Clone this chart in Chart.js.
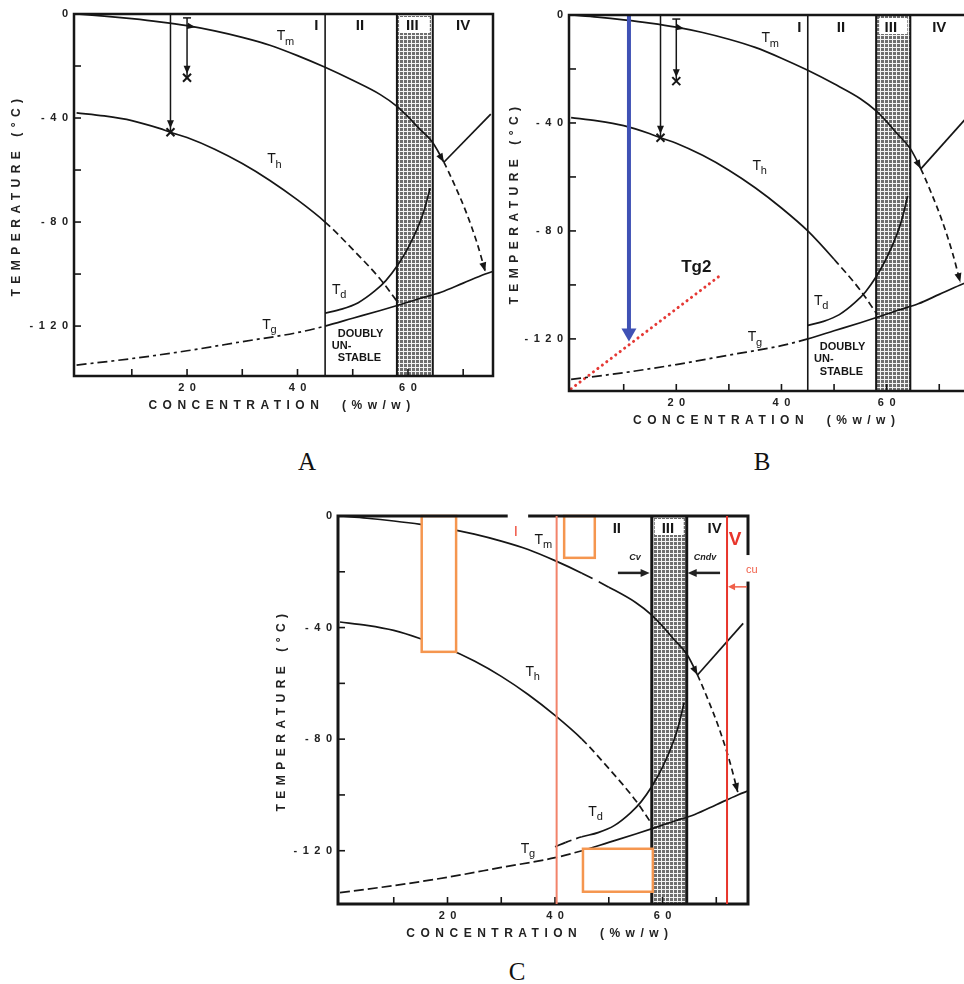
<!DOCTYPE html>
<html>
<head>
<meta charset="utf-8">
<script src="https://cdn.jsdelivr.net/npm/chart.js@4.4.1/dist/chart.umd.min.js"></script>
<style>
  html, body { margin: 0; padding: 0; background: #fff; }
  body { width: 964px; height: 984px; position: relative; overflow: hidden; }
  canvas { position: absolute; }
  .tag { position: absolute; width: 40px; margin-left: -20px; text-align: center;
         font-family: 'Liberation Serif', 'DejaVu Serif', serif; font-size: 25px; line-height: 25px; color: #111; }
</style>
</head>
<body>
<canvas id="chartA" width="505" height="445" style="left:0;top:0"></canvas>
<canvas id="chartB" width="500" height="445" style="left:485px;top:0"></canvas>
<canvas id="chartC" width="500" height="460" style="left:270px;top:490px"></canvas>
<div class="tag" style="left:307px;top:449px">A</div>
<div class="tag" style="left:762px;top:449px">B</div>
<div class="tag" style="left:517px;top:959px">C</div>

<script>
// ---------- data (concentration % w/w, temperature °C) ----------
const tmConc = [0, 5, 10, 15, 20, 25, 30, 35, 40, 45, 50, 55, 58, 60, 62, 64.5, 66.5, 68.5, 70.5, 72.5, 74];
const tmTemp = [0, -0.8, -1.8, -3, -4.5, -6.5, -9, -12, -16, -20.5, -25.5, -31, -35.5, -39.5, -44, -49.5, -57, -66, -76, -88, -99];

const thConc = [0, 5, 10, 15, 17, 20, 25, 30, 35, 40, 45, 50, 55, 58.2];
const thTemp = [-38, -39.2, -41, -44, -45.5, -47.5, -52, -57.5, -64, -71.5, -80, -90.5, -102, -111];

const tdConc = [40, 42, 45, 48, 51, 54, 56, 58, 60, 62, 63, 64];
const tdTemp = [-118.6, -117, -115, -113.5, -111, -106.5, -102.5, -97, -90, -81, -75, -67];

const tgConc = [0, 10, 20, 30, 40, 45, 50, 55, 58.2, 62, 66, 70, 74, 76];
const tgTemp = [-135, -132.5, -129.5, -126, -122.5, -120, -117, -114, -112, -109.5, -107, -103.5, -100, -98.5];

// straight line from the Tm knee up to the right border
const bridgeConc = [66.5, 75];
const bridgeTemp = [-57, -38.5];

// panel B only
const tg2Conc = [0, 28.7];
const tg2Temp = [-138.5, -96];
const quenchConc = 11;
const quenchEnd = -121;

// cooling paths (panels A and B)
const coolConc = [17, 20];
const coolStart = [0, -1.5];
const coolEnd = [-45.5, -24.5];

// region boundaries
const boundaryI = 45;
const bandStart = 58;
const bandEnd = 64.5;
const redLines = [40.3, 72];   // panel C

// axes
const concTicks = [10, 20, 30, 40, 50, 60, 70];
const concLabels = [20, 40, 60];
const tempTicks = [0, -20, -40, -60, -80, -100, -120];
const tempLabels = [0, -40, -80, -120];

// orange boxes of panel C: [conc0, conc1, temp0, temp1]
const boxesC = [
    [15.2, 21.6, 0, -48.7],
    [41.7, 47.4, 0, -15],
    [45.2, 58.2, -119.3, -134.7]
];

const INK = '#161616';
const FONT = "'Liberation Sans', Arial, sans-serif";

// ---------- helpers ----------
function spaced(s) {
    return s.split('').join('\u2002');
}

function line(ctx, x0, y0, x1, y1) {
    ctx.beginPath();
    ctx.moveTo(x0, y0);
    ctx.lineTo(x1, y1);
    ctx.stroke();
}

function arrowHead(ctx, tx, ty, ang, len, half) {
    const c = Math.cos(ang), s = Math.sin(ang);
    ctx.beginPath();
    ctx.moveTo(tx, ty);
    ctx.lineTo(tx - len * c + half * s, ty - len * s - half * c);
    ctx.lineTo(tx - len * c - half * s, ty - len * s + half * c);
    ctx.closePath();
    ctx.fill();
}

function cross(ctx, x, y, r) {
    line(ctx, x - r, y - r, x + r, y + r);
    line(ctx, x - r, y + r, x + r, y - r);
}

function stipple(ctx) {
    const c = document.createElement('canvas');
    c.width = 4; c.height = 4;
    const g = c.getContext('2d');
    g.fillStyle = '#6e6e6e';
    g.fillRect(0, 0, 4, 4);
    g.fillStyle = '#f4f4f4';
    g.fillRect(0, 3, 4, 1);
    g.fillRect(3, 0, 1, 4);
    return ctx.createPattern(c, 'repeat');
}

function tLabel(ctx, x, y, sub) {
    ctx.fillStyle = INK;
    ctx.textAlign = 'center';
    ctx.textBaseline = 'middle';
    ctx.font = '14px ' + FONT;
    ctx.fillText('T', x, y);
    ctx.font = '11px ' + FONT;
    ctx.textAlign = 'left';
    ctx.fillText(sub, x + 4, y + 5);
}

function curve(xs, ys, from, dashFn, tension) {
    return {
        data: xs.map((x, i) => ({ x: x, y: ys[i] })).filter(p => p.x >= from),
        borderColor: INK,
        borderWidth: 1.7,
        pointRadius: 0,
        fill: false,
        tension: tension === undefined ? 0.4 : tension,
        cubicInterpolationMode: tension === 0 ? 'default' : 'monotone',
        segment: { borderDash: c => dashFn(c.p0.parsed.x, c.p1.parsed.x) }
    };
}

// ---------- drawing shared by all panels ----------
function phasePlugin(P) {
    return {
        id: 'phase' + P.name,
        beforeDatasetsDraw(chart) {
            const { ctx, chartArea: a, scales } = chart;
            const X = v => scales.x.getPixelForValue(v);
            const b0 = X(bandStart), b1 = X(bandEnd);
            ctx.save();
            ctx.fillStyle = stipple(ctx);
            ctx.fillRect(b0, a.top, b1 - b0, a.bottom - a.top);
            ctx.fillStyle = '#fff';
            ctx.fillRect(b0 + 3, a.top + 3, b1 - b0 - 6, 16);
            ctx.strokeStyle = INK;
            ctx.lineWidth = P.bandLine;
            line(ctx, b0, a.top, b0, a.bottom);
            line(ctx, b1, a.top, b1, a.bottom);
            if (P.showBoundary) {
                ctx.lineWidth = 1.6;
                line(ctx, X(boundaryI), a.top, X(boundaryI), a.bottom);
            }
            ctx.restore();
        },
        afterDatasetsDraw(chart) {
            const { ctx, chartArea: a, scales } = chart;
            const X = v => scales.x.getPixelForValue(v);
            const Y = v => scales.y.getPixelForValue(v);
            ctx.save();

            // arrowheads on Tm: at the knee and at the end of the dashed part
            ctx.fillStyle = INK;
            const k = tmConc.indexOf(bridgeConc[0]);
            arrowHead(ctx, X(tmConc[k]), Y(tmTemp[k]),
                Math.atan2(Y(tmTemp[k]) - Y(tmTemp[k - 1]), X(tmConc[k]) - X(tmConc[k - 1])), 9, 3.5);
            const n = tmConc.length - 1;
            arrowHead(ctx, X(tmConc[n]), Y(tmTemp[n]),
                Math.atan2(Y(tmTemp[n]) - Y(tmTemp[n - 1]), X(tmConc[n]) - X(tmConc[n - 1])), 9, 3.5);

            if (P.over) P.over(ctx, X, Y, a);

            // frame and inward ticks
            ctx.strokeStyle = INK;
            ctx.lineWidth = P.frame;
            ctx.strokeRect(a.left, a.top, a.right - a.left, a.bottom - a.top);
            ctx.lineWidth = 1.6;
            concTicks.forEach(v => line(ctx, X(v), a.bottom, X(v), a.bottom - 7));
            tempTicks.filter(v => v !== 0).forEach(v => line(ctx, a.left, Y(v), a.left + 7, Y(v)));
            if (P.frameOver) P.frameOver(ctx, X, Y, a);

            // region numerals
            ctx.fillStyle = INK;
            ctx.font = 'bold 15px ' + FONT;
            ctx.textAlign = 'center';
            ctx.textBaseline = 'middle';
            P.regions.forEach(r => ctx.fillText(r[0], X(r[1]), Y(-4.6)));

            // curve names
            tLabel(ctx, X(37), Y(-8.7), 'm');
            tLabel(ctx, X(35.3), Y(-56), 'h');
            tLabel(ctx, X(47), Y(-106), 'd');
            tLabel(ctx, X(34.4), Y(-119.5), 'g');
            ctx.restore();
        },
        afterDraw(chart) {
            const { ctx, chartArea: a, scales } = chart;
            ctx.save();
            ctx.fillStyle = '#222';
            ctx.font = 'bold 12px ' + FONT;
            ctx.letterSpacing = '5.5px';
            ctx.textAlign = 'center';
            ctx.textBaseline = 'middle';
            ctx.fillText('CONCENTRATION  (%w/w)', scales.x.getPixelForValue(37.2), a.bottom + 30);
            ctx.translate(P.yTitleX, (a.top + a.bottom) / 2);
            ctx.rotate(-Math.PI / 2);
            ctx.fillText('TEMPERATURE (°C)', 0, 0);
            ctx.restore();
        }
    };
}

function makePanel(id, P, extraSets) {
    const datasets = [
        curve(tmConc, tmTemp, 0, P.tmDash),
        curve(thConc, thTemp, 0, P.thDash),
        curve(tdConc, tdTemp, P.tdFrom, P.tdDash),
        curve(tgConc, tgTemp, 0, P.tgDash),
        curve(bridgeConc, bridgeTemp, 0, () => undefined, 0)
    ].concat(extraSets || []);

    return new Chart(document.getElementById(id), {
        type: 'line',
        data: { datasets: datasets },
        options: {
            responsive: false,
            animation: false,
            devicePixelRatio: 1,
            layout: { padding: { left: 0, top: P.padTop, right: P.padRight, bottom: P.padBottom } },
            plugins: { legend: { display: false }, tooltip: { enabled: false } },
            scales: {
                x: {
                    type: 'linear', min: P.xMin, max: P.xMax,
                    grid: { display: false, drawTicks: false }, border: { display: false },
                    afterBuildTicks: s => { s.ticks = concTicks.map(v => ({ value: v })); },
                    afterFit: s => { s.height = 40; },
                    ticks: {
                        autoSkip: false, maxRotation: 0, padding: 5, color: '#222',
                        font: { family: FONT, size: 11, weight: 'bold' },
                        callback: v => concLabels.includes(v) ? spaced(String(v)) : ''
                    }
                },
                y: {
                    type: 'linear', min: P.yMin, max: 0,
                    grid: { display: false, drawTicks: false }, border: { display: false },
                    afterBuildTicks: s => { s.ticks = tempTicks.map(v => ({ value: v })); },
                    afterFit: s => { s.width = P.yWidth; },
                    ticks: {
                        autoSkip: false, padding: 6, color: '#222',
                        font: { family: FONT, size: 11, weight: 'bold' },
                        callback: v => tempLabels.includes(v) ? spaced(String(v)) : ''
                    }
                }
            }
        },
        plugins: [phasePlugin(P)]
    });
}

// ---------- overlays ----------
function drawCooling(ctx, X, Y) {
    ctx.strokeStyle = INK;
    ctx.fillStyle = INK;
    ctx.lineWidth = 1.5;
    coolConc.forEach((c, i) => {
        const x = X(c), y0 = Y(coolStart[i]), y1 = Y(coolEnd[i]);
        line(ctx, x, y0, x, y1);
        arrowHead(ctx, x, y1 - 4, Math.PI / 2, 8, 3.5);
        ctx.lineWidth = 2;
        cross(ctx, x, y1, 4);
        ctx.lineWidth = 1.5;
    });
    line(ctx, X(coolConc[1]) - 4, Y(coolStart[1]), X(coolConc[1]) + 4, Y(coolStart[1]));
    // small arrow riding on Tm
    arrowHead(ctx, X(21.5), Y(-5.1), Math.atan2(Y(-6.5) - Y(-4.5), X(25) - X(20)), 8, 3.2);
}

function drawDoubly(ctx, X, Y) {
    ctx.fillStyle = INK;
    ctx.font = 'bold 11px ' + FONT;
    ctx.textAlign = 'left';
    ctx.textBaseline = 'middle';
    ctx.fillText('DOUBLY', X(47.3), Y(-123));
    ctx.fillText('UN-', X(46.2), Y(-127.6));
    ctx.fillText('STABLE', X(47.3), Y(-132.2));
}

const panelA = {
    name: 'A', padTop: 14, padRight: 12, padBottom: 29, yWidth: 74, yTitleX: 17,
    xMin: -0.47, xMax: 75.4, yMin: -139.2, frame: 2.5, bandLine: 2, showBoundary: true,
    tdFrom: 45,
    tmDash: x0 => x0 >= 66.4 ? [6, 4] : undefined,
    thDash: x0 => x0 >= 44.9 ? [7, 4] : undefined,
    tdDash: () => undefined,
    tgDash: x0 => x0 < 45 ? [10, 4, 3, 4] : undefined,
    regions: [['I', 43.4], ['II', 51.3], ['III', 60.8], ['IV', 70]],
    over: (ctx, X, Y) => { drawCooling(ctx, X, Y); drawDoubly(ctx, X, Y); }
};

const panelB = Object.assign({}, panelA, {
    name: 'B', padTop: 15, padRight: 0, padBottom: 14, yWidth: 84, yTitleX: 30,
    xMin: -0.4, xMax: 78.7, yMin: -139.3,
    thDash: x0 => x0 >= 49.9 ? [7, 4] : undefined,
    over: (ctx, X, Y) => {
        drawCooling(ctx, X, Y);
        drawDoubly(ctx, X, Y);
        // blue quench arrow
        ctx.strokeStyle = '#3f51b5';
        ctx.fillStyle = '#3f51b5';
        ctx.lineWidth = 4;
        line(ctx, X(quenchConc), Y(0), X(quenchConc), Y(quenchEnd) - 10);
        arrowHead(ctx, X(quenchConc), Y(quenchEnd), Math.PI / 2, 13, 7.5);
        ctx.fillStyle = INK;
        ctx.font = 'bold 17px ' + FONT;
        ctx.textAlign = 'center';
        ctx.textBaseline = 'middle';
        ctx.fillText('Tg2', X(23.8), Y(-93.6));
    }
});

const panelC = Object.assign({}, panelA, {
    name: 'C', padTop: 26, padRight: 22, padBottom: 6, yWidth: 68, yTitleX: 12,
    xMin: -0.37, xMax: 75.9, yMin: -139.1, frame: 3, bandLine: 3, showBoundary: false,
    tdFrom: 40,
    tmDash: x0 => x0 >= 66.4 ? [6, 4] : (x0 >= 45 && x0 < 50 ? [12, 7] : undefined),
    thDash: x0 => x0 >= 44.9 ? [7, 4] : undefined,
    tdDash: x0 => x0 >= 42 && x0 < 45 ? [6, 5] : undefined,
    tgDash: x0 => x0 < 45 ? [10, 4] : undefined,
    regions: [['II', 51.5], ['III', 61], ['IV', 69.7]],
    over: (ctx, X, Y, a) => {
        // orange boxes, white inside
        ctx.lineWidth = 2.5;
        ctx.strokeStyle = '#f5964f';
        boxesC.forEach(b => {
            const x0 = X(b[0]), x1 = X(b[1]), y0 = Y(b[2]), y1 = Y(b[3]);
            ctx.fillStyle = '#fff';
            ctx.fillRect(x0, y0, x1 - x0, y1 - y0);
            ctx.strokeRect(x0, y0, x1 - x0, y1 - y0);
        });
        // black arrows towards the band
        ctx.strokeStyle = '#222';
        ctx.fillStyle = '#222';
        ctx.lineWidth = 2.5;
        line(ctx, X(51.7), Y(-20.4), X(57.6) - 6, Y(-20.4));
        arrowHead(ctx, X(57.6), Y(-20.4), 0, 9, 4);
        line(ctx, X(70.7), Y(-20.4), X(bandEnd) + 6, Y(-20.4));
        arrowHead(ctx, X(bandEnd) + 1, Y(-20.4), Math.PI, 9, 4);
        ctx.font = 'italic bold 9px ' + FONT;
        ctx.textAlign = 'center';
        ctx.textBaseline = 'middle';
        ctx.fillText('Cv', X(54.9), Y(-15));
        ctx.fillText('Cndv', X(67.9), Y(-15));
    },
    frameOver: (ctx, X, Y, a) => {
        // gap in the top border, red limits and labels
        ctx.fillStyle = '#fff';
        ctx.fillRect(X(31.2), a.top - 3, X(35) - X(31.2), 6);
        ctx.fillRect(a.right - 3, Y(-14), 16, Y(-23.5) - Y(-14));
        ctx.lineWidth = 2;
        ctx.strokeStyle = '#f2836a';
        line(ctx, X(redLines[0]), a.top, X(redLines[0]), a.bottom);
        ctx.strokeStyle = '#e8352b';
        line(ctx, X(redLines[1]), a.top, X(redLines[1]), a.bottom);
        ctx.textAlign = 'center';
        ctx.textBaseline = 'middle';
        ctx.fillStyle = '#ee4b3a';
        ctx.font = '15px ' + FONT;
        ctx.fillText('I', X(32.7), Y(-5.7));
        ctx.fillStyle = '#e8352b';
        ctx.font = 'bold 19px ' + FONT;
        ctx.fillText('V', X(73.5), Y(-8.6));
        ctx.font = '11px ' + FONT;
        ctx.fillStyle = '#f0604a';
        ctx.fillText('cu', X(76.6), Y(-19.2));
        ctx.strokeStyle = '#f0604a';
        ctx.fillStyle = '#f0604a';
        ctx.lineWidth = 1.5;
        line(ctx, X(75.7), Y(-25.4), X(redLines[1]) + 5, Y(-25.4));
        arrowHead(ctx, X(redLines[1]) + 1, Y(-25.4), Math.PI, 7, 3.5);
    }
});

makePanel('chartA', panelA);
makePanel('chartB', panelB, [{
    data: tg2Conc.map((x, i) => ({ x: x, y: tg2Temp[i] })),
    borderColor: '#e53935',
    borderWidth: 3,
    borderCapStyle: 'round',
    borderDash: [0.1, 5.5],
    pointRadius: 0,
    tension: 0,
    fill: false
}]);
makePanel('chartC', panelC);
</script>
</body>
</html>
